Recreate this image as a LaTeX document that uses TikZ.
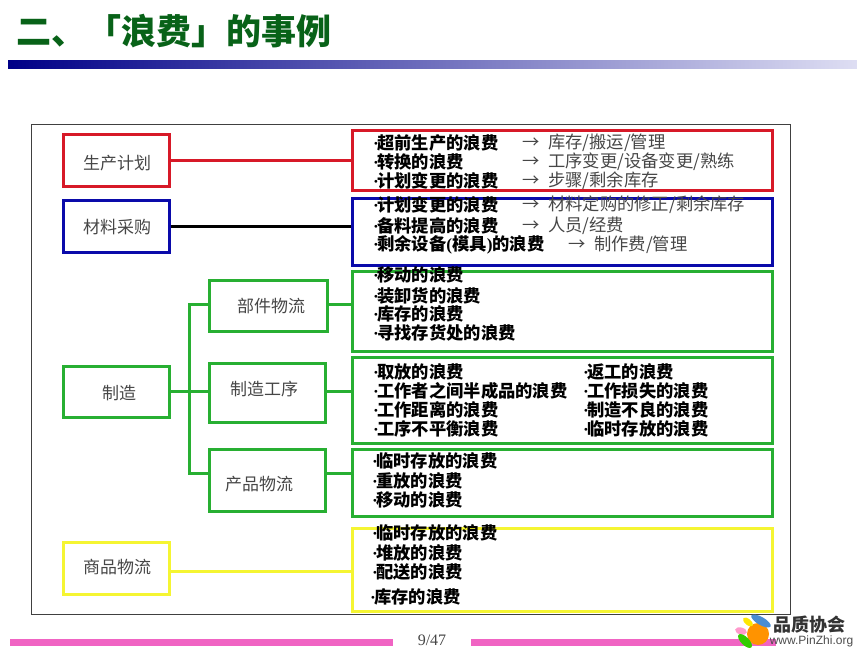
\documentclass[tikz,border=0pt]{standalone}
\usepackage{fontspec}
\setmainfont{Liberation Serif}
\newfontfamily\cjk{Noto Sans CJK SC}
\newfontfamily\logofont{Liberation Sans}
\usepackage{xcolor}
\usepackage{tikz}
\usetikzlibrary{
  positioning
}
\definecolor{TitleGreen}{RGB}{8, 98, 24}
\definecolor{BarNavy}{RGB}{0, 0, 135}
\definecolor{BarPale}{RGB}{222, 222, 243}
\definecolor{BoxRed}{RGB}{215, 25, 40}
\definecolor{BoxBlue}{RGB}{10, 10, 170}
\definecolor{BoxGreen}{RGB}{40, 175, 50}
\definecolor{BoxYellow}{RGB}{245, 245, 50}
\definecolor{FootPink}{RGB}{240, 100, 195}
\definecolor{TextGray}{RGB}{70, 70, 70}
\newcommand{\wastedot}{\makebox[4pt][l]{\rmfamily ·}}
\newcommand{\resultarrow}{\makebox[26pt][l]{→}}
\tikzset{
    stagebox/.style={rectangle, draw, line width=3pt, inner sep=0pt},
    stagetext/.style={font=\fontsize{17}{19}\selectfont\cjk, text=TextGray, inner sep=0pt},
    wastebox/.style={rectangle, draw, line width=3pt, inner sep=0pt, minimum width=420pt},
    waste/.style={anchor=west, font=\fontsize{17.3}{19}\selectfont\cjk\bfseries, text=black, inner sep=0pt},
    result/.style={anchor=west, font=\fontsize{17.3}{19}\selectfont\cjk, text=TextGray, inner sep=0pt},
    link/.style={line width=3pt}
}

\begin{document}
\begin{tikzpicture}[x=1pt, y=-1pt]
    \useasboundingbox (0,0) rectangle (857,652);

    \node[anchor=west, font=\fontsize{35}{38}\selectfont\cjk\bfseries, text=TitleGreen, inner sep=0pt] (title) at (16,31) {二、「浪费」的事例};
    \shade[left color=BarNavy, right color=BarPale] (8,61) rectangle (857,69);

    \node[rectangle, draw=black!75, line width=1pt, minimum width=759pt, minimum height=489pt, inner sep=0pt] (frame) at (410.5,369.5) {};

    \node[stagebox, draw=BoxRed, minimum width=106pt, minimum height=52pt] (planbox) at (116,161) {};
    \node[stagetext] (plantext) at (117,163) {生产计划};
    \node[stagebox, draw=BoxBlue, minimum width=106pt, minimum height=52pt] (buybox) at (116,227) {};
    \node[stagetext] (buytext) at (117,227) {材料采购};
    \node[stagebox, draw=BoxGreen, minimum width=106pt, minimum height=50pt] (makebox) at (116,392) {};
    \node[stagetext] (maketext) at (119,393) {制造};
    \node[stagebox, draw=BoxYellow, minimum width=106pt, minimum height=52pt] (salebox) at (116,568) {};
    \node[stagetext] (saletext) at (117,567) {商品物流};

    \node[stagebox, draw=BoxGreen, minimum width=118pt, minimum height=51pt] (partbox) at (268,306.5) {};
    \node[stagetext] (parttext) at (271,306) {部件物流};
    \node[stagebox, draw=BoxGreen, minimum width=116pt, minimum height=58pt] (procbox) at (267,393) {};
    \node[stagetext] (proctext) at (264,389) {制造工序};
    \node[stagebox, draw=BoxGreen, minimum width=116pt, minimum height=62pt] (goodsbox) at (267,480) {};
    \node[stagetext] (goodstext) at (259,484) {产品物流};

    \node[wastebox, draw=BoxRed, minimum height=60pt] (planwaste) at (562,161) {};
    \node[wastebox, draw=BoxBlue, minimum height=67pt] (buywaste) at (562,232.5) {};
    \node[wastebox, draw=BoxGreen, minimum height=80pt] (partwaste) at (562,312) {};
    \node[wastebox, draw=BoxGreen, minimum height=85pt] (procwaste) at (562,400.5) {};
    \node[wastebox, draw=BoxGreen, minimum height=67pt] (goodswaste) at (562,482.5) {};
    \node[wastebox, draw=BoxYellow, minimum height=83pt] (salewaste) at (562,569.5) {};

    \coordinate (hub) at (189,391);
    \coordinate (parthub) at (189,305);
    \coordinate (goodshub) at (189,473);
    \coordinate (salehub) at (189,571);

    \draw[link, BoxRed] (planbox.east) -- (planwaste.west);
    \draw[link, black] (buybox.east) -- (buybox.east -| buywaste.west);
    \draw[link, BoxGreen] (makebox.east |- hub) -- (procbox.west |- hub);
    \draw[link, BoxGreen] (partbox.west |- parthub) -- (parthub) -- (goodshub) -- (goodsbox.west |- goodshub);
    \draw[link, BoxGreen] (partbox.east |- parthub) -- (partwaste.west |- parthub);
    \draw[link, BoxGreen] (procbox.east |- hub) -- (procwaste.west |- hub);
    \draw[link, BoxGreen] (goodsbox.east |- goodshub) -- (goodswaste.west |- goodshub);
    \draw[link, BoxYellow] (salebox.east |- salehub) -- (salewaste.west |- salehub);

    \node[waste] (plana) at (373,143) {\wastedot 超前生产的浪费};
    \node[result] (planaa) at (522,143) {\resultarrow 库存/搬运/管理};
    \node[waste] (planb) at (373,162) {\wastedot 转换的浪费};
    \node[result] (planbb) at (522,162) {\resultarrow 工序变更/设备变更/熟练};
    \node[waste] (planc) at (373,181) {\wastedot 计划变更的浪费};
    \node[result] (plancc) at (522,181) {\resultarrow 步骤/剩余库存};

    \node[waste] (buya) at (373,205) {\wastedot 计划变更的浪费};
    \node[result] (buyaa) at (522,205) {\resultarrow 材料定购的修正/剩余库存};
    \node[waste] (buyb) at (373,226) {\wastedot 备料提高的浪费};
    \node[result] (buybb) at (522,226) {\resultarrow 人员/经费};
    \node[waste] (buyc) at (373,245) {\wastedot 剩余设备{\rmfamily (}模具{\rmfamily )}的浪费};
    \node[result] (buycc) at (568,245) {\resultarrow 制作费/管理};

    \node[waste] (parta) at (373,275) {\wastedot 移动的浪费};
    \node[waste] (partb) at (373,296) {\wastedot 装卸货的浪费};
    \node[waste] (partc) at (373,314) {\wastedot 库存的浪费};
    \node[waste] (partd) at (373,333) {\wastedot 寻找存货处的浪费};

    \node[waste] (proca) at (373,372) {\wastedot 取放的浪费};
    \node[waste] (procb) at (373,391) {\wastedot 工作者之间半成品的浪费};
    \node[waste] (procc) at (373,410) {\wastedot 工作距离的浪费};
    \node[waste] (procd) at (373,429) {\wastedot 工序不平衡浪费};
    \node[waste] (proce) at (583,372) {\wastedot 返工的浪费};
    \node[waste] (procf) at (583,391) {\wastedot 工作损失的浪费};
    \node[waste] (procg) at (583,410) {\wastedot 制造不良的浪费};
    \node[waste] (proch) at (583,429) {\wastedot 临时存放的浪费};

    \node[waste] (goodsa) at (372,461) {\wastedot 临时存放的浪费};
    \node[waste] (goodsb) at (372,481) {\wastedot 重放的浪费};
    \node[waste] (goodsc) at (372,500) {\wastedot 移动的浪费};

    \node[waste] (salea) at (372,533) {\wastedot 临时存放的浪费};
    \node[waste] (saleb) at (372,553) {\wastedot 堆放的浪费};
    \node[waste] (salec) at (372,572) {\wastedot 配送的浪费};
    \node[waste] (saled) at (370,597) {\wastedot 库存的浪费};

    \fill[FootPink] (10,639) rectangle (393,646);
    \fill[FootPink] (471,639) rectangle (776,646);
    \node[font=\fontsize{16}{18}\selectfont, text=TextGray, inner sep=0pt] (page) at (432,640) {9/47};

    \fill[orange!85!yellow] (758,634) circle (11pt);
    \fill[cyan!55!blue!75, rotate around={-30:(761,621)}] (761,621) ellipse (11pt and 4pt);
    \fill[yellow!90!orange, rotate around={-40:(748,622)}] (748,622) ellipse (6pt and 3pt);
    \fill[pink!80!magenta, rotate around={-15:(741,631)}] (741,631) ellipse (6pt and 3.5pt);
    \fill[green!60!olive, rotate around={-45:(745,641)}] (745,641) ellipse (9pt and 4pt);
    \node[font=\fontsize{18}{20}\selectfont\cjk\bfseries, text=black!80, inner sep=0pt] (logoname) at (809,625) {品质协会};
    \node[font=\fontsize{12}{14}\selectfont\logofont, text=black!70, inner sep=0pt] (logourl) at (811.5,641) {www.PinZhi.org};
\end{tikzpicture}
\end{document}
